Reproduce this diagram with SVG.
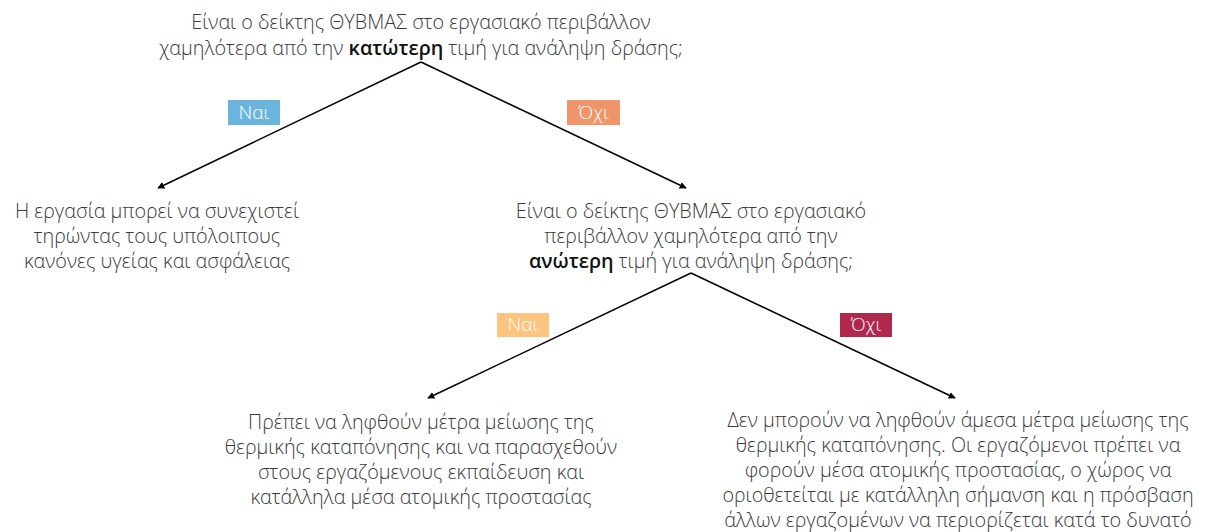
<svg xmlns="http://www.w3.org/2000/svg" width="1207" height="532" viewBox="0 0 1207 532">
<style>
text{font-family:"Open Sans","Noto Sans","DejaVu Sans",sans-serif;font-size:19.8px;font-weight:300;fill:#3a3a3a;text-anchor:middle}
.b{font-weight:600;fill:#111}
.lbl{fill:#fff;font-size:19px}
.edge{stroke:#000;stroke-width:1.5;fill:none;marker-end:url(#ah)}
</style>
<defs>
<marker id="ah" viewBox="0 0 10 10" refX="9" refY="5" markerWidth="7" markerHeight="7" orient="auto-start-reverse" markerUnits="userSpaceOnUse"><path d="M0,0 L10,5 L0,10 z" fill="#000"/></marker>
</defs>
<g id="connectors">
<line class="edge" x1="421" y1="62" x2="158" y2="188"/>
<line class="edge" x1="421" y1="62" x2="686" y2="188"/>
<line class="edge" x1="691" y1="273" x2="428" y2="398"/>
<line class="edge" x1="691" y1="273" x2="955" y2="398"/>
<g id="lbl1"><rect x="228" y="100" width="52" height="25" fill="#6BB5DD"/><text class="lbl" x="254" y="119">Ναι</text></g>
<g id="lbl2"><rect x="567" y="100" width="53" height="25" fill="#F0956A"/><text class="lbl" x="593.5" y="119">Όχι</text></g>
<g id="lbl3"><rect x="497" y="313" width="52" height="24" fill="#FDC47F"/><text class="lbl" x="523" y="331">Ναι</text></g>
<g id="lbl4"><rect x="840" y="313" width="52" height="24" fill="#B0284E"/><text class="lbl" x="866" y="331">Όχι</text></g>
</g>
<g id="q1">
<text x="421" y="29">Είναι ο δείκτης ΘΥΒΜΑΣ στο εργασιακό περιβάλλον</text>
<text x="421" y="55">χαμηλότερα από την <tspan class="b">κατώτερη</tspan> τιμή για ανάληψη δράσης;</text>
</g>
<g id="a1">
<text x="157" y="218">Η εργασία μπορεί να συνεχιστεί</text>
<text x="157" y="243">τηρώντας τους υπόλοιπους</text>
<text x="157" y="268">κανόνες υγείας και ασφάλειας</text>
</g>
<g id="q2">
<text x="691" y="218">Είναι ο δείκτης ΘΥΒΜΑΣ στο εργασιακό</text>
<text x="691" y="243">περιβάλλον χαμηλότερα από την</text>
<text x="691" y="268"><tspan class="b">ανώτερη</tspan> τιμή για ανάληψη δράσης;</text>
</g>
<g id="a2">
<text x="421" y="429">Πρέπει να ληφθούν μέτρα μείωσης της</text>
<text x="421" y="454">θερμικής καταπόνησης και να παρασχεθούν</text>
<text x="421" y="479">στους εργαζόμενους εκπαίδευση και</text>
<text x="421" y="504">κατάλληλα μέσα ατομικής προστασίας</text>
</g>
<g id="a3">
<text x="958" y="427">Δεν μπορούν να ληφθούν άμεσα μέτρα μείωσης της</text>
<text x="958" y="452">θερμικής καταπόνησης. Οι εργαζόμενοι πρέπει να</text>
<text x="958" y="477">φορούν μέσα ατομικής προστασίας, ο χώρος να</text>
<text x="958" y="502">οριοθετείται με κατάλληλη σήμανση και η πρόσβαση</text>
<text x="958" y="527">άλλων εργαζομένων να περιορίζεται κατά το δυνατό</text>
</g>
</svg>
